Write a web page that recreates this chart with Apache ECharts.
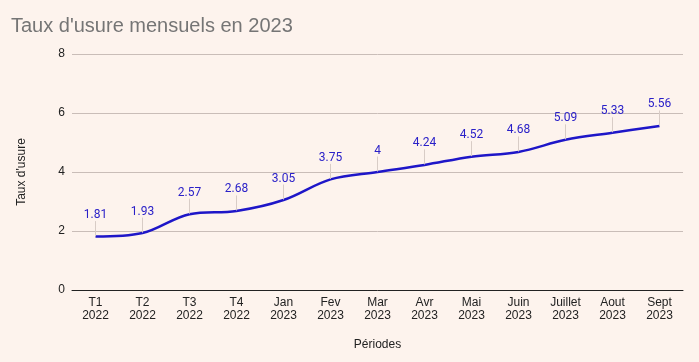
<!DOCTYPE html>
<html>
<head>
<meta charset="utf-8">
<script src="https://cdn.jsdelivr.net/npm/echarts@6/dist/echarts.min.js"></script>
<style>
html,body{margin:0;padding:0;background:#fdf3ed;}
#c{width:699px;height:362px;}
</style>
</head>
<body>
<div id="c"></div>
<script>
const categories = ["T1\n2022","T2\n2022","T3\n2022","T4\n2022","Jan\n2023","Fev\n2023","Mar\n2023","Avr\n2023","Mai\n2023","Juin\n2023","Juillet\n2023","Aout\n2023","Sept\n2023"];
const rates = [1.81,1.93,2.57,2.68,3.05,3.75,4,4.24,4.52,4.68,5.09,5.33,5.56];
const yTicks = {min:0, max:8, interval:2};

const chart = echarts.init(document.getElementById('c'));
chart.setOption({
  backgroundColor:'#fdf3ed',
  animation:false,
  title:{text:"Taux d'usure mensuels en 2023", left:6, top:11,
    textStyle:{fontFamily:'Liberation Sans, Arial', fontSize:20, fontWeight:'normal', color:'#757575'}},
  grid:{left:72, right:16, top:54, bottom:72},
  xAxis:{type:'category', data:categories, boundaryGap:true,
    name:'Périodes', nameLocation:'middle', nameGap:49,
    nameTextStyle:{fontFamily:'Liberation Sans, Arial', fontSize:12, color:'#222'},
    axisLine:{lineStyle:{color:'#222', width:1}},
    axisTick:{show:false},
    axisLabel:{fontFamily:'Liberation Sans, Arial', fontSize:12, color:'#222', lineHeight:13, margin:6, interval:0}},
  yAxis:{type:'value', min:yTicks.min, max:yTicks.max, interval:yTicks.interval,
    name:"Taux d'usure", nameLocation:'middle', nameGap:44,
    nameTextStyle:{fontFamily:'Liberation Sans, Arial', fontSize:12, color:'#222'},
    axisLine:{show:false}, axisTick:{show:false},
    axisLabel:{fontFamily:'Liberation Sans, Arial', fontSize:12, color:'#222', margin:7},
    splitLine:{lineStyle:{color:'#c9bdb8'}}},
  series:[{
    type:'line', data:rates, smooth:0.35, symbol:'circle', symbolSize:1, showSymbol:true,
    itemStyle:{color:'rgba(0,0,0,0)', borderWidth:0},
    lineStyle:{color:'#1e16c8', width:2.5},
    label:{show:true, position:'top', distance:5, fontFamily:'Roboto', fontSize:12, color:'#2a20c8', opacity:1},
    labelLayout:{dy:-10},
    labelLine:{show:true, lineStyle:{color:'#d8ccc6', width:1}}
  }]
});
</script>
</body>
</html>
